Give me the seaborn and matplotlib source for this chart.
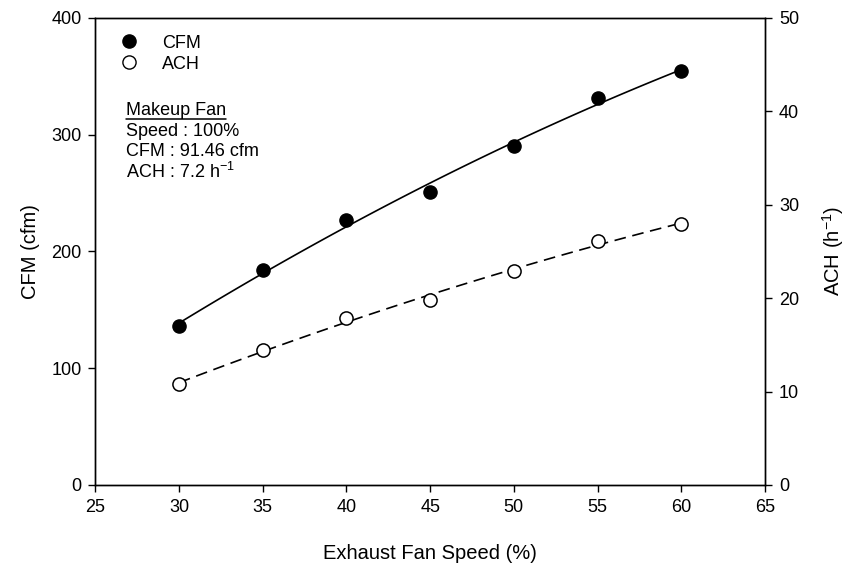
import matplotlib
matplotlib.use("Agg")
import matplotlib.pyplot as plt
from matplotlib.lines import Line2D
import seaborn as sns
import numpy as np

speed = [30, 35, 40, 45, 50, 55, 60]
cfm = [136, 184, 227, 251, 290.5, 331.5, 354]
ach = [10.8, 14.4, 17.9, 19.8, 22.9, 26.1, 27.9]
x_ticks = [25, 30, 35, 40, 45, 50, 55, 60, 65]
cfm_ticks = [0, 100, 200, 300, 400]
ach_ticks = [0, 10, 20, 30, 40, 50]
note_lines = ["Makeup Fan", "Speed : 100%", "CFM : 91.46 cfm", "ACH : 7.2 h$^{\\mathregular{-1}}$"]

sns.set_theme(style="ticks")
plt.rcParams['font.family'] = ['Liberation Sans', 'DejaVu Sans']
plt.rcParams['mathtext.fontset'] = 'custom'
plt.rcParams['mathtext.rm'] = 'Liberation Sans'
plt.rcParams['mathtext.it'] = 'Liberation Sans:italic'
plt.rcParams['text.color'] = 'black'
plt.rcParams['axes.labelcolor'] = 'black'
plt.rcParams['xtick.color'] = 'black'
plt.rcParams['ytick.color'] = 'black'

W, H = 845, 564
fig = plt.figure(figsize=(W / 100, H / 100), dpi=100)
ax = fig.add_axes([0.1128, 0.1401, 0.9053 - 0.1128, 0.9686 - 0.1401])
ax2 = ax.twinx()

fs_tick = 13
fs_label = 14.5

# fitted curves
sns.regplot(x=speed, y=cfm, order=2, ci=None, scatter=False, ax=ax,
            line_kws=dict(color='black', lw=1.2, linestyle='-'))
sns.regplot(x=speed, y=ach, order=2, ci=None, scatter=False, ax=ax2,
            line_kws=dict(color='black', lw=1.2, linestyle=(0, (7, 4))))

# points
sns.scatterplot(x=speed, y=cfm, ax=ax, color='black', edgecolor='black',
                s=90, linewidth=1, zorder=5, legend=False)
sns.scatterplot(x=speed, y=ach, ax=ax2, color='white', edgecolor='black',
                s=90, linewidth=1.1, zorder=5, legend=False)

ax.set_xlim(25, 65)
ax.set_ylim(0, 400)
ax2.set_ylim(0, 50)
ax.set_xticks(x_ticks)
ax.set_yticks(cfm_ticks)
ax2.set_yticks(ach_ticks)

ax.set_xlabel("Exhaust Fan Speed (%)", fontsize=fs_label, labelpad=20)
ax.set_ylabel("CFM (cfm)", fontsize=fs_label, labelpad=8)
ax2.set_ylabel("ACH (h$^{\\mathregular{-1}}$)", fontsize=fs_label, labelpad=15)

for a in (ax, ax2):
    a.tick_params(axis='both', direction='out', length=5, width=1, colors='black',
                  labelsize=fs_tick, pad=5)
    for s in a.spines.values():
        s.set_visible(True)
        s.set_color('black')
        s.set_linewidth(1)
ax.tick_params(axis='x', top=False)
ax.set_zorder(ax2.get_zorder() + 1)
ax.patch.set_visible(False)

handles = [
    Line2D([], [], marker='o', linestyle='none', markerfacecolor='black',
           markeredgecolor='black', markersize=9.5),
    Line2D([], [], marker='o', linestyle='none', markerfacecolor='white',
           markeredgecolor='black', markersize=9.5),
]

# iterative legend placement: target CFM text left = 161.7 px, row centres 43.3 / 64.3 px from top
fig.canvas.draw()
renderer = fig.canvas.get_renderer()
ax_bb = ax.get_window_extent()
anchor = [0.0357, 0.987]
spacing = 0.15
leg = None
for _ in range(4):
    if leg is not None:
        leg.remove()
    leg = ax.legend(handles, ["CFM", "ACH"], loc='upper left', frameon=False,
                    bbox_to_anchor=tuple(anchor), fontsize=fs_tick,
                    handlelength=1.2, handletextpad=1.2, labelspacing=spacing,
                    borderpad=0.0)
    fig.canvas.draw()
    t0 = leg.get_texts()[0].get_window_extent(renderer)
    t1 = leg.get_texts()[1].get_window_extent(renderer)
    c0 = H - (t0.y0 + t0.y1) / 2
    c1 = H - (t1.y0 + t1.y1) / 2
    dx = 161.7 - t0.x0
    dy = 43.3 - c0
    anchor[0] += dx / ax_bb.width
    anchor[1] -= dy / ax_bb.height
    spacing += (21.0 - (c1 - c0)) / (fs_tick * 100 / 72)

# annotation text block
ys = [110.7, 131.7, 151.7, 171.7]
texts = []
for line, ypx in zip(note_lines, ys):
    t = fig.text(125.7 / W, 1 - ypx / H, line, fontsize=fs_tick, va='center', ha='left')
    texts.append(t)

fig.canvas.draw()
bb = texts[0].get_window_extent(renderer)
uy = H - 118.6
fig.add_artist(Line2D([bb.x0 / W, bb.x1 / W], [uy / H, uy / H],
                      color='black', lw=1.1, transform=fig.transFigure))

fig.savefig("out.png", dpi=100)
